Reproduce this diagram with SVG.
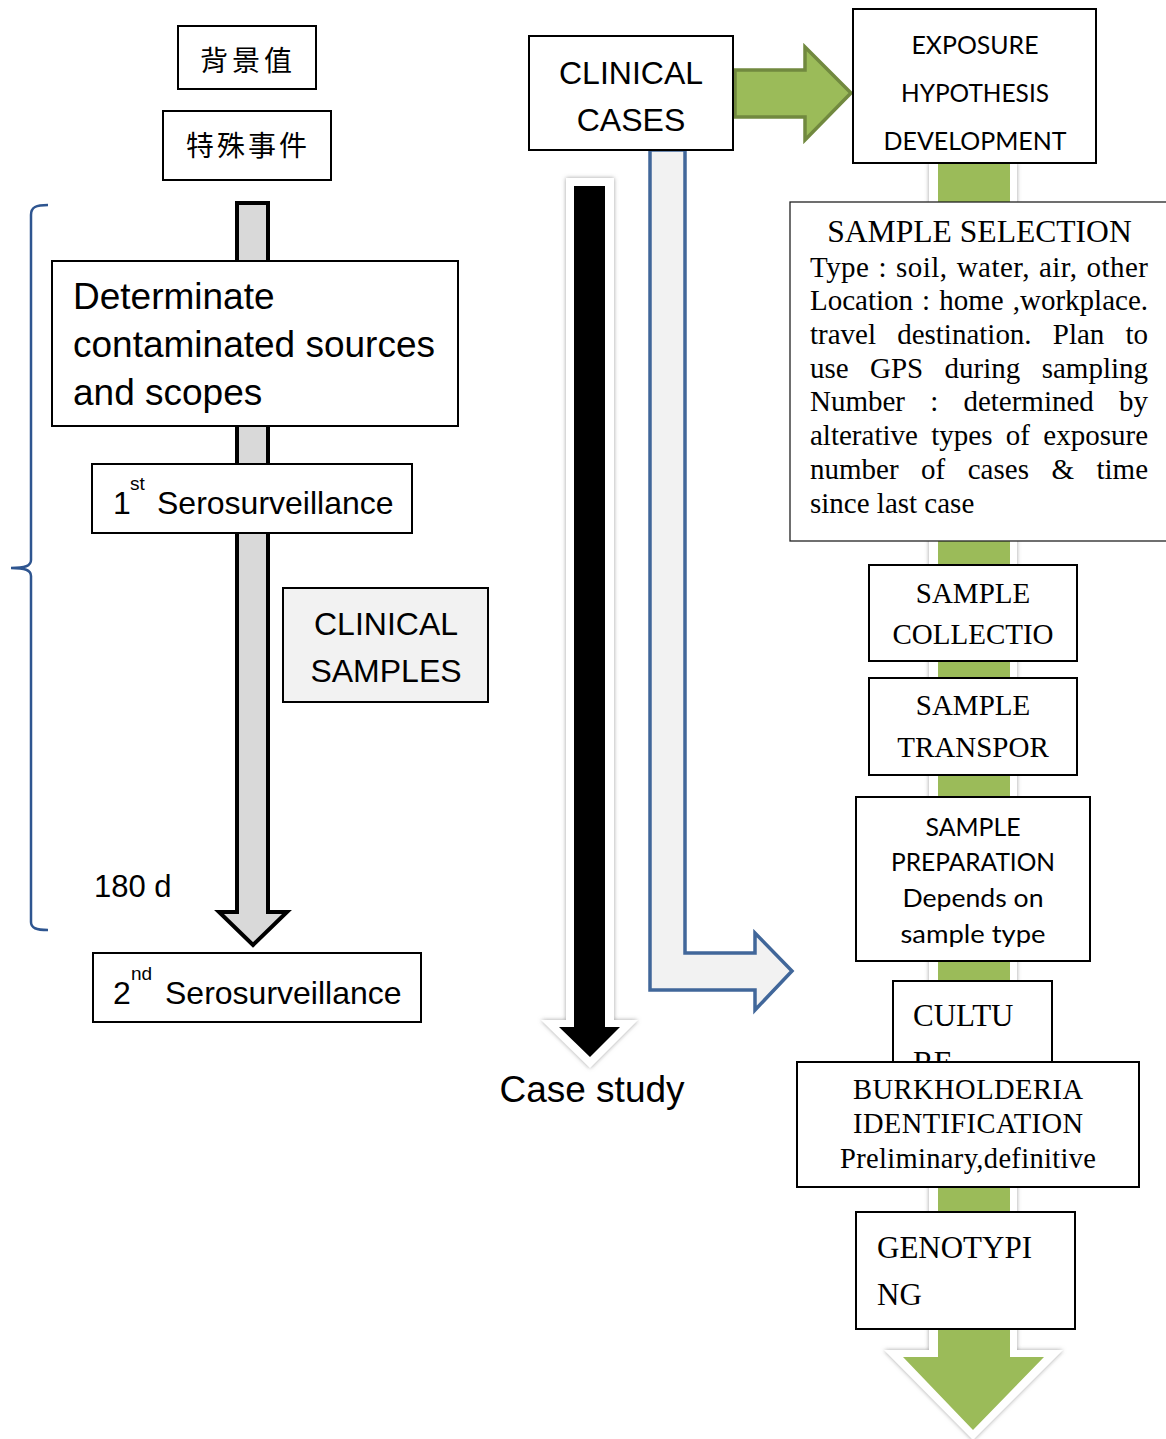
<svg xmlns="http://www.w3.org/2000/svg" width="1166" height="1439" viewBox="0 0 1166 1439">
<style>
.box{fill:#fff;stroke:#000;stroke-width:2}
.arial{font-family:"Liberation Sans",Arial,sans-serif;fill:#000}
.times{font-family:"Liberation Serif","Times New Roman",serif;fill:#000}
.cal{font-family:Lato,"Open Sans",sans-serif;fill:#000}
.cjk{font-family:"Noto Sans CJK TC","Noto Sans CJK SC",sans-serif;fill:#000}
</style>
<defs>
<filter id="sh" x="-20%" y="-5%" width="140%" height="110%">
<feDropShadow dx="0" dy="0" stdDeviation="2" flood-color="#777" flood-opacity="0.7"/>
</filter>
<clipPath id="cultclip"><rect x="893" y="981" width="160" height="81"/></clipPath>
</defs>
<rect width="1166" height="1439" fill="#fff"/>

<g id="connectors">
<path d="M48,205 C36,205 31,207 31,215 L31,560 C31,566 25,568 11,568 C25,568 31,570 31,576 L31,922 C31,928 36,930 48,930" fill="none" stroke="#2e5590" stroke-width="2.5"/>
<polygon points="237,203 268,203 268,912 287,912 253,945 219,912 237,912" fill="#d9d9d9" stroke="#000" stroke-width="4" stroke-linejoin="miter"/>
<polygon points="566,178 614,178 614,1020 638,1020 590,1068 541,1020 566,1020" fill="#fff" filter="url(#sh)"/>
<polygon points="574,186 605,186 605,1027 620,1027 590,1057 559,1027 574,1027" fill="#000"/>
<polygon points="650,150 685,150 685,953 755,953 755,933 792,971 755,1010 755,990 650,990" fill="#f2f2f2" stroke="#41679a" stroke-width="3.5" stroke-linejoin="miter"/>
<polygon points="735,70 805,70 805,47 851,93 805,140 805,117 735,117" fill="#9bbb59" stroke="#71893f" stroke-width="3.5"/>
<polygon points="929,163 1017,163 1017,1350 1063,1350 973,1440 884,1350 929,1350" fill="#fff" filter="url(#sh)"/>
<polygon points="938,163 1010,163 1010,1357 1044,1357 973,1430 903,1357 938,1357" fill="#9bbb59"/>
</g>

<g id="n-bg">
<rect class="box" x="178" y="26" width="138" height="63"/>
<text class="cjk" x="248" y="71" font-size="28" text-anchor="middle" letter-spacing="4">背景值</text>
</g>
<g id="n-special">
<rect class="box" x="163" y="111" width="168" height="69"/>
<text class="cjk" x="248" y="156" font-size="28" text-anchor="middle" letter-spacing="3">特殊事件</text>
</g>
<g id="n-determinate">
<rect class="box" x="52" y="261" width="406" height="165"/>
<text class="arial" font-size="37"><tspan x="73" y="309">Determinate</tspan><tspan x="73" y="357">contaminated sources</tspan><tspan x="73" y="405">and scopes</tspan></text>
</g>
<g id="n-sero1">
<rect class="box" x="92" y="464" width="320" height="69"/>
<text class="arial" x="113" y="514" font-size="32">1</text>
<text class="arial" x="130" y="490" font-size="19">st</text>
<text class="arial" x="157" y="514" font-size="32">Serosurveillance</text>
</g>
<g id="n-clinsamples">
<rect x="283" y="588" width="205" height="114" fill="#f2f2f2" stroke="#000" stroke-width="2"/>
<text class="arial" x="386" y="635" font-size="32" text-anchor="middle">CLINICAL</text>
<text class="arial" x="386" y="682" font-size="32" text-anchor="middle">SAMPLES</text>
</g>
<g id="n-180d">
<text class="arial" x="94" y="897" font-size="31">180 d</text>
</g>
<g id="n-sero2">
<rect class="box" x="93" y="953" width="328" height="69"/>
<text class="arial" x="113" y="1004" font-size="32">2</text>
<text class="arial" x="131" y="980" font-size="19">nd</text>
<text class="arial" x="165" y="1004" font-size="32">Serosurveillance</text>
</g>

<g id="n-clincases">
<rect class="box" x="529" y="36" width="204" height="114"/>
<text class="arial" x="631" y="84" font-size="32" text-anchor="middle">CLINICAL</text>
<text class="arial" x="631" y="131" font-size="32" text-anchor="middle">CASES</text>
</g>
<g id="n-casestudy">
<text class="arial" x="592" y="1102" font-size="37" text-anchor="middle">Case study</text>
</g>

<g id="n-exposure">
<rect class="box" x="853" y="9" width="243" height="154"/>
<text class="cal" x="975" y="54" font-size="25" text-anchor="middle" textLength="127" lengthAdjust="spacingAndGlyphs">EXPOSURE</text>
<text class="cal" x="975" y="102" font-size="25" text-anchor="middle" textLength="148" lengthAdjust="spacingAndGlyphs">HYPOTHESIS</text>
<text class="cal" x="975" y="150" font-size="25" text-anchor="middle" textLength="183" lengthAdjust="spacingAndGlyphs">DEVELOPMENT</text>
</g>
<g id="n-selection">
<rect x="790" y="202" width="380" height="339" fill="#fff" stroke="#222" stroke-width="1.3"/>
<text class="times" x="979.5" y="242" font-size="31.6" text-anchor="middle">SAMPLE SELECTION</text>
<g class="times" font-size="29">
<text x="810" y="277" word-spacing="1.4" textLength="338" lengthAdjust="spacing">Type : soil, water, air, other</text>
<text x="810" y="310" word-spacing="1.8" textLength="338" lengthAdjust="spacing">Location : home ,workplace.</text>
<text x="810" y="344" word-spacing="13.9" textLength="338" lengthAdjust="spacing">travel destination. Plan to</text>
<text x="810" y="378" word-spacing="14.1" textLength="338" lengthAdjust="spacing">use GPS during sampling</text>
<text x="810" y="411" word-spacing="17.9" textLength="338" lengthAdjust="spacing">Number : determined by</text>
<text x="810" y="445" word-spacing="6.1" textLength="338" lengthAdjust="spacing">alterative types of exposure</text>
<text x="810" y="479" word-spacing="15.2" textLength="338" lengthAdjust="spacing">number of cases &amp; time</text>
<text x="810" y="513">since last case</text>
</g>
</g>
<g id="n-collection">
<rect class="box" x="869" y="565" width="208" height="96"/>
<text class="times" x="973" y="603" font-size="29" text-anchor="middle">SAMPLE</text>
<text class="times" x="973" y="644" font-size="29" text-anchor="middle">COLLECTIO</text>
</g>
<g id="n-transport">
<rect class="box" x="869" y="678" width="208" height="97"/>
<text class="times" x="973" y="715" font-size="29" text-anchor="middle">SAMPLE</text>
<text class="times" x="973" y="757" font-size="29" text-anchor="middle">TRANSPOR</text>
</g>
<g id="n-preparation">
<rect class="box" x="856" y="797" width="234" height="164"/>
<text class="cal" x="973" y="836" font-size="25" text-anchor="middle" textLength="95" lengthAdjust="spacingAndGlyphs">SAMPLE</text>
<text class="cal" x="973" y="871" font-size="25" text-anchor="middle" textLength="164" lengthAdjust="spacingAndGlyphs">PREPARATION</text>
<text class="cal" x="973" y="907" font-size="25" text-anchor="middle" textLength="141" lengthAdjust="spacingAndGlyphs">Depends on</text>
<text class="cal" x="973" y="943" font-size="25" text-anchor="middle" textLength="145" lengthAdjust="spacingAndGlyphs">sample type</text>
</g>
<g id="n-culture">
<rect class="box" x="893" y="981" width="159" height="90"/>
<text class="times" x="913" y="1026" font-size="31">CULTU</text>
<text class="times" x="913" y="1073" font-size="31" clip-path="url(#cultclip)">RE</text>
</g>
<g id="n-burkholderia">
<rect class="box" x="797" y="1062" width="342" height="125"/>
<text class="times" x="968" y="1099" font-size="28.5" text-anchor="middle" textLength="230" lengthAdjust="spacing">BURKHOLDERIA</text>
<text class="times" x="968" y="1133" font-size="28.5" text-anchor="middle" textLength="230" lengthAdjust="spacing">IDENTIFICATION</text>
<text class="times" x="968" y="1168" font-size="28.5" text-anchor="middle" textLength="256" lengthAdjust="spacing">Preliminary,definitive</text>
</g>
<g id="n-genotyping">
<rect class="box" x="856" y="1212" width="219" height="117"/>
<text class="times" x="877" y="1258" font-size="31">GENOTYPI</text>
<text class="times" x="877" y="1305" font-size="31">NG</text>
</g>
</svg>
